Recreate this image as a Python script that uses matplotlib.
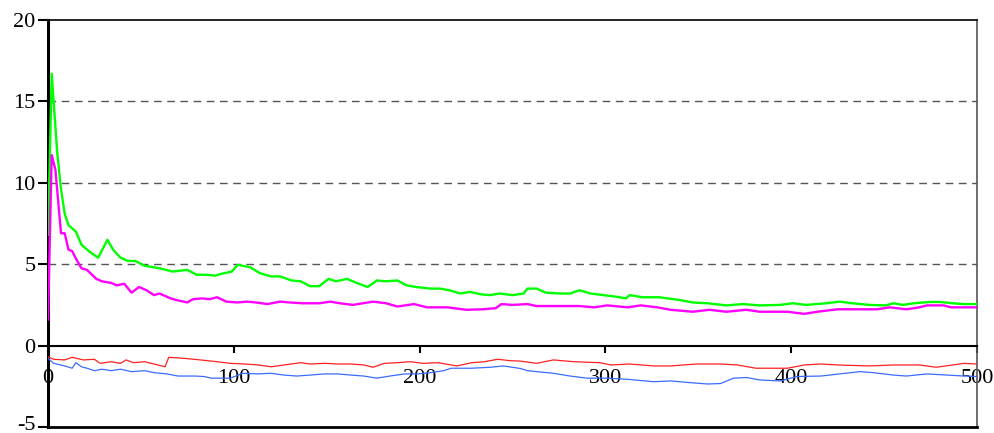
import matplotlib.pyplot as plt
from matplotlib.transforms import ScaledTranslation

# values
green_x = [0, 2, 5, 7, 9, 11, 15, 18, 22, 27, 32, 35, 39, 43, 47, 52, 55, 60, 67, 75, 80, 85,
           90, 93, 99, 102, 103, 109, 114, 120, 125, 131, 136, 141, 146, 151, 155, 161, 166,
           172, 177, 182, 188, 193, 198, 206, 211, 216, 222, 227, 233, 238, 243, 250, 256,
           258, 263, 268, 276, 281, 286, 292, 299, 306, 311, 313, 320, 329, 340, 347, 355,
           365, 374, 383, 394, 401, 408, 419, 426, 433, 442, 451, 455, 460, 466, 475, 480,
           487, 493, 500]
green_y = [6.8, 16.7, 11.8, 9.6, 8.1, 7.4, 7.0, 6.2, 5.8, 5.4, 6.5, 5.9, 5.4, 5.2, 5.2, 4.9,
           4.85, 4.75, 4.55, 4.65, 4.35, 4.35, 4.3, 4.4, 4.55, 4.95, 4.95, 4.8, 4.45, 4.25,
           4.25, 4.0, 3.95, 3.65, 3.65, 4.1, 3.95, 4.1, 3.85, 3.6, 4.0, 3.95, 4.0, 3.7, 3.6,
           3.5, 3.5, 3.4, 3.2, 3.3, 3.15, 3.1, 3.2, 3.1, 3.2, 3.5, 3.5, 3.25, 3.2, 3.2, 3.4,
           3.2, 3.1, 3.0, 2.9, 3.1, 2.97, 2.97, 2.8, 2.65, 2.6, 2.47, 2.55, 2.47, 2.5, 2.6,
           2.5, 2.6, 2.7, 2.6, 2.5, 2.47, 2.6, 2.5, 2.6, 2.68, 2.68, 2.6, 2.55, 2.55]

magenta_x = [0, 2, 4, 7, 9, 11, 13, 15, 18, 21, 26, 29, 34, 37, 41, 45, 49, 53, 57, 60, 64,
             66, 69, 75, 78, 83, 87, 91, 96, 102, 107, 112, 118, 125, 130, 137, 146, 152,
             157, 164, 175, 182, 188, 197, 204, 215, 225, 234, 241, 244, 250, 258, 263, 274,
             286, 294, 301, 312, 319, 328, 335, 347, 356, 365, 376, 383, 398, 407, 414, 425,
             446, 453, 462, 469, 473, 482, 486, 500]
magenta_y = [1.6, 11.7, 10.8, 6.9, 6.9, 5.9, 5.8, 5.35, 4.75, 4.65, 4.1, 3.95, 3.85, 3.7,
             3.8, 3.25, 3.6, 3.4, 3.1, 3.2, 3.0, 2.9, 2.8, 2.65, 2.85, 2.9, 2.85, 2.97, 2.7,
             2.65, 2.7, 2.65, 2.55, 2.7, 2.65, 2.6, 2.6, 2.7, 2.6, 2.5, 2.7, 2.6, 2.4, 2.55,
             2.35, 2.35, 2.2, 2.23, 2.3, 2.55, 2.5, 2.55, 2.43, 2.43, 2.43, 2.35, 2.47, 2.35,
             2.47, 2.35, 2.2, 2.08, 2.2, 2.08, 2.2, 2.08, 2.08, 1.95, 2.08, 2.23, 2.23, 2.35,
             2.23, 2.35, 2.47, 2.47, 2.35, 2.35]

red_x = [0, 3, 9, 13, 19, 25, 28, 34, 39, 42, 46, 52, 57, 63, 65, 73, 82, 91, 98, 106, 113,
         120, 127, 136, 141, 149, 156, 163, 170, 175, 181, 188, 195, 202, 210, 217, 220, 228,
         235, 242, 249, 254, 263, 272, 283, 297, 303, 313, 326, 335, 349, 362, 371, 381, 398,
         407, 416, 425, 442, 455, 469, 478, 487, 493, 500]
red_y = [-0.68, -0.84, -0.88, -0.72, -0.88, -0.84, -1.09, -0.99, -1.09, -0.88, -1.05, -0.99,
         -1.13, -1.3, -0.72, -0.78, -0.88, -0.99, -1.09, -1.13, -1.19, -1.3, -1.19, -1.05,
         -1.13, -1.09, -1.13, -1.13, -1.19, -1.33, -1.09, -1.05, -0.99, -1.09, -1.05, -1.19,
         -1.25, -1.05, -0.99, -0.84, -0.93, -0.95, -1.09, -0.88, -0.99, -1.05, -1.19, -1.13,
         -1.25, -1.25, -1.13, -1.13, -1.19, -1.39, -1.39, -1.19, -1.13, -1.19, -1.25, -1.19,
         -1.19, -1.33, -1.19, -1.09, -1.13]

blue_x = [0, 3, 9, 13, 15, 18, 21, 25, 29, 34, 39, 45, 52, 57, 64, 70, 79, 84, 88, 98, 105,
          113, 120, 127, 134, 141, 149, 156, 163, 170, 177, 184, 192, 199, 206, 213, 217, 228,
          238, 245, 254, 258, 263, 272, 281, 290, 301, 312, 326, 335, 346, 355, 362, 369, 376,
          383, 394, 403, 416, 426, 437, 444, 455, 462, 473, 484, 493, 500]
blue_y = [-0.78, -1.09, -1.25, -1.39, -1.05, -1.3, -1.39, -1.54, -1.45, -1.54, -1.45, -1.6,
          -1.54, -1.66, -1.74, -1.87, -1.87, -1.9, -2.0, -2.0, -1.7, -1.74, -1.7, -1.81,
          -1.87, -1.81, -1.74, -1.74, -1.81, -1.87, -2.0, -1.87, -1.74, -1.74, -1.66, -1.54,
          -1.39, -1.39, -1.33, -1.25, -1.4, -1.54, -1.6, -1.7, -1.87, -2.0, -2.0, -2.07,
          -2.22, -2.17, -2.28, -2.36, -2.33, -2.0, -1.96, -2.11, -2.17, -1.9, -1.87, -1.74,
          -1.6, -1.66, -1.81, -1.87, -1.74, -1.81, -1.87, -1.9]

x_ticks = [0, 100, 200, 300, 400, 500]
y_ticks = [-5, 0, 5, 10, 15, 20]
grid_levels = [5, 10, 15]


def main():
    plt.rcParams['font.family'] = ['Liberation Serif', 'DejaVu Serif']
    plt.rcParams['axes.unicode_minus'] = False

    fig = plt.figure(figsize=(9.94, 4.33), dpi=100)
    ax = fig.add_axes([48 / 994, 1 - 427 / 433, 929 / 994, 407 / 433])

    for g in grid_levels:
        ax.axhline(g, color='#555555', lw=1.0, linestyle=(0, (5.5, 4)), zorder=1)

    ax.plot(red_x, red_y, color='#ff2020', lw=0.9, zorder=3)
    ax.plot(blue_x, blue_y, color='#3a6cff', lw=0.9, zorder=3)
    ax.plot(green_x, green_y, color='#00ff00', lw=1.7, zorder=4)
    ax.plot(magenta_x, magenta_y, color='#ff00ff', lw=1.7, zorder=4)

    ax.set_xlim(0, 500)
    ax.set_ylim(-5, 20)

    # x axis sits on y = 0, frame bottom drawn at -5
    ax.spines['bottom'].set_position(('data', 0))
    ax.spines['bottom'].set_linewidth(1.5)
    ax.spines['left'].set_linewidth(2.2)
    ax.spines['top'].set_linewidth(1.2)
    ax.spines['right'].set_linewidth(1.2)
    ax.spines['right'].set_color('#555555')
    ax.axhline(-5, color='black', lw=2.0, clip_on=False, zorder=5)

    ax.set_xticks(x_ticks)
    ax.set_yticks(y_ticks)
    ax.tick_params(axis='x', direction='out', length=5, width=1.5, pad=12, labelsize=16)
    ax.tick_params(axis='y', direction='out', length=7, width=1.5, pad=2, labelsize=16)

    # lift the bottom label a little so it stays inside the picture
    lab = ax.get_yticklabels()[0]
    lab.set_transform(lab.get_transform() + ScaledTranslation(0, 3 / 72, fig.dpi_scale_trans))

    fig.savefig('out.png', dpi=100)


if __name__ == "__main__":
    main()
